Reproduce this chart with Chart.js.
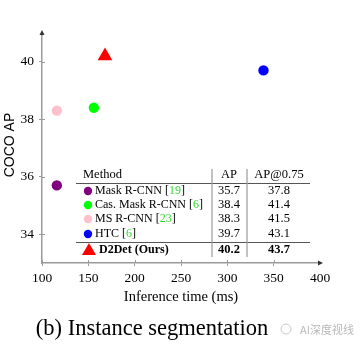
<!DOCTYPE html>
<html>
<head>
<meta charset="utf-8">
<script src="https://cdn.jsdelivr.net/npm/chart.js@4"></script>
<style>
  body { margin: 0; background: #fff; }
  #wrap { width: 361px; height: 347px; }
</style>
</head>
<body>
<div id="wrap"><canvas id="apChart"></canvas></div>
<script>
// Data
var methods = ["Mask R-CNN", "Cas. Mask R-CNN", "MS R-CNN", "HTC", "D2Det (Ours)"];
var refs = ["19", "6", "23", "6", ""];
var inferenceMs = [116, 156, 116, 339, 168];
var maskAP = [35.7, 38.4, 38.3, 39.7, 40.2];
var ap75 = [37.8, 41.4, 41.5, 43.1, 43.7];
var colors = ["#800080", "#00ff00", "#ffc0cb", "#0000ff", "#ff0000"];
var shapes = ["circle", "circle", "circle", "circle", "triangle"];
var xTicks = [100, 150, 200, 250, 300, 350, 400];
var yTicks = [34, 36, 38, 40];

var serif = "'Liberation Serif', 'DejaVu Serif', serif";
var axisGray = "#9a9a9a";

var datasets = methods.map(function (m, i) {
  return {
    label: m,
    data: [{ x: inferenceMs[i], y: maskAP[i] }],
    backgroundColor: colors[i],
    borderColor: colors[i],
    pointStyle: shapes[i],
    pointRadius: shapes[i] === "triangle" ? 8.5 : 5.2,
    pointBorderWidth: 0,
  };
});

// Axis arrows, inner tick marks, table and captions
var decorPlugin = {
  id: "decor",
  afterDraw: function (chart) {
    var ctx = chart.ctx;
    var a = chart.chartArea;
    var xs = chart.scales.x, ys = chart.scales.y;
    ctx.save();
    ctx.strokeStyle = axisGray;
    ctx.fillStyle = "#333";
    ctx.lineWidth = 1;
    // inner tick marks
    yTicks.forEach(function (v) {
      var y = Math.round(ys.getPixelForValue(v)) + 0.5;
      ctx.beginPath(); ctx.moveTo(a.left, y); ctx.lineTo(a.left + 3, y); ctx.stroke();
    });
    xTicks.slice(0, 6).forEach(function (v) {
      var x = Math.round(xs.getPixelForValue(v)) + 0.5;
      ctx.beginPath(); ctx.moveTo(x, a.bottom); ctx.lineTo(x, a.bottom - 3); ctx.stroke();
    });
    // arrow heads
    ctx.beginPath();
    ctx.moveTo(a.left, a.top - 3); ctx.lineTo(a.left - 2.5, a.top + 2); ctx.lineTo(a.left + 2.5, a.top + 2);
    ctx.closePath(); ctx.fill();
    ctx.beginPath();
    ctx.moveTo(a.right + 3, a.bottom); ctx.lineTo(a.right - 2, a.bottom - 2.5); ctx.lineTo(a.right - 2, a.bottom + 2.5);
    ctx.closePath(); ctx.fill();

    // table
    ctx.strokeStyle = "#555";
    ctx.beginPath();
    ctx.moveTo(76, 183.5); ctx.lineTo(310, 183.5);
    ctx.moveTo(76, 242.5); ctx.lineTo(310, 242.5);
    ctx.stroke();
    ctx.strokeStyle = "#999";
    ctx.lineWidth = 1.2;
    ctx.beginPath();
    ctx.moveTo(212, 169); ctx.lineTo(212, 257);
    ctx.moveTo(247, 169); ctx.lineTo(247, 257);
    ctx.stroke();

    var tf = "12px " + serif;
    ctx.fillStyle = "#000";
    ctx.textBaseline = "middle";
    ctx.font = "12.5px " + serif;
    ctx.textAlign = "left";
    ctx.fillText("Method", 83, 175);
    ctx.textAlign = "center";
    ctx.fillText("AP", 229, 175);
    ctx.fillText("AP@0.75", 279, 175);

    var rowY = [191, 205, 219, 234, 250];
    methods.forEach(function (m, i) {
      var y = rowY[i];
      var bold = i === 4;
      ctx.fillStyle = colors[i];
      if (shapes[i] === "triangle") {
        ctx.beginPath();
        ctx.moveTo(89, y - 7); ctx.lineTo(96, y + 5); ctx.lineTo(82, y + 5);
        ctx.closePath(); ctx.fill();
      } else {
        ctx.beginPath(); ctx.arc(88, y, 4.2, 0, Math.PI * 2); ctx.fill();
      }
      ctx.font = (bold ? "bold " : "") + tf;
      ctx.textAlign = "left";
      var tx = bold ? 99 : 95;
      ctx.fillStyle = "#000";
      var name = m + (refs[i] ? " [" : "");
      ctx.fillText(name, tx, y);
      if (refs[i]) {
        var w = ctx.measureText(name).width;
        ctx.fillStyle = "#33dd33";
        ctx.fillText(refs[i], tx + w, y);
        var w2 = ctx.measureText(refs[i]).width;
        ctx.fillStyle = "#000";
        ctx.fillText("]", tx + w + w2, y);
      }
      ctx.font = (bold ? "bold " : "") + "12.5px " + serif;
      ctx.textAlign = "center";
      ctx.fillText(maskAP[i].toFixed(1), 229, y);
      ctx.fillText(ap75[i].toFixed(1), 279, y);
    });

    // axis titles
    ctx.font = "14.5px " + serif;
    ctx.textAlign = "center";
    ctx.fillText("Inference time (ms)", 181, 297);
    ctx.save();
    ctx.translate(10, 145);
    ctx.rotate(-Math.PI / 2);
    ctx.font = "14px 'Liberation Sans', Arial, sans-serif";
    ctx.fillText("COCO AP", 0, 0);
    ctx.restore();

    // caption
    ctx.font = "22.5px " + serif;
    ctx.fillText("(b) Instance segmentation", 152, 329);
    // watermark
    ctx.font = "11px 'Noto Sans CJK SC', sans-serif";
    ctx.fillStyle = "#b8b8b8";
    ctx.textAlign = "left";
    ctx.fillText("AI深度视线", 300, 330);
    ctx.strokeStyle = "#c8c8c8";
    ctx.lineWidth = 1;
    ctx.beginPath(); ctx.arc(286, 329, 5, 0, Math.PI * 2); ctx.stroke();
    ctx.restore();
  },
};

var ctx = document.getElementById("apChart").getContext("2d");
var apChart = new Chart(ctx, {
  type: "scatter",
  data: { datasets: datasets },
  options: {
    responsive: true,
    maintainAspectRatio: false,
    animation: false,
    layout: { padding: { top: 33, right: 41, left: 0, bottom: 0 } },
    plugins: { legend: { display: false }, tooltip: { enabled: false } },
    scales: {
      x: {
        min: 100,
        max: 400,
        afterBuildTicks: function (scale) {
          scale.ticks = xTicks.map(function (v) { return { value: v }; });
        },
        afterFit: function (scale) { scale.height = 84; },
        grid: {
          drawOnChartArea: false,
          tickLength: 3,
          color: function (c) { return c.tick && c.tick.value === 400 ? "rgba(0,0,0,0)" : axisGray; },
        },
        border: { color: axisGray, width: 1.5 },
        ticks: { color: "#000", padding: 4, maxRotation: 0, font: { family: serif, size: 13.5 } },
      },
      y: {
        min: 33,
        max: 41,
        afterBuildTicks: function (scale) {
          scale.ticks = yTicks.map(function (v) { return { value: v }; });
        },
        afterFit: function (scale) { scale.width = 42; },
        grid: { drawOnChartArea: false, tickLength: 3, color: axisGray },
        border: { color: axisGray, width: 1.5 },
        ticks: { color: "#000", padding: 5, font: { family: serif, size: 13.5 } },
      },
    },
  },
  plugins: [decorPlugin],
});
</script>
</body>
</html>
